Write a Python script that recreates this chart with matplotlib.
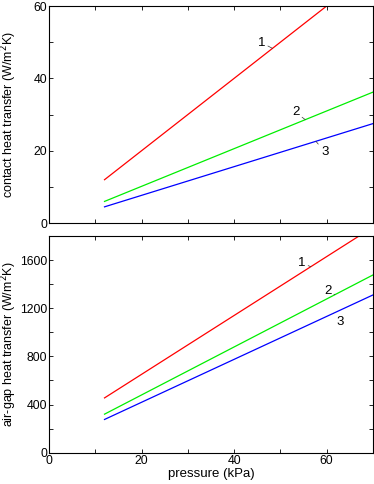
import matplotlib
matplotlib.use("Agg")
import matplotlib.pyplot as plt
import numpy as np

plt.rcParams["font.family"] = ["Liberation Sans", "DejaVu Sans"]
plt.rcParams["font.size"] = 9.5

# data (pressure in kPa)
pressure = np.array([12, 70])
contact_1 = np.array([12.0, 70.0])
contact_2 = np.array([6.0, 36.2])
contact_3 = np.array([4.5, 27.5])
airgap_1 = np.array([455.0, 1873.0])
airgap_2 = np.array([320.0, 1476.0])
airgap_3 = np.array([276.0, 1310.0])

COLORS = ["#ff0000", "#00ee00", "#0000ff"]

# label text position, point on curve for the leader line
top_labels = [("1", (45.9, 49.9), (48.3, 48.3)),
              ("2", (53.3, 30.6), (55.4, 28.6)),
              ("3", (59.6, 19.7), (57.7, 22.6))]
bot_labels = [("1", (54.6, 1575), (56.6, 1545)),
              ("2", (60.2, 1346), (61.8, 1312)),
              ("3", (62.9, 1084), (61.5, 1157))]

fig = plt.figure(figsize=(3.74, 4.84), dpi=100)
ax1 = fig.add_axes([0.131, 0.539, 0.866, 0.4485])
ax2 = fig.add_axes([0.131, 0.0647, 0.866, 0.4477])


def style(ax):
    ax.set_xlim(0, 70)
    ax.set_xticks(np.arange(0, 71, 10))
    ax.tick_params(direction="in", top=True, right=True, length=3, width=0.6,
                   pad=1.5, labelsize=8.8)
    for s in ax.spines.values():
        s.set_linewidth(0.8)


def label(ax, labels):
    for txt, (tx, ty), (cx, cy) in labels:
        ax.annotate(txt, xy=(cx, cy), xytext=(tx, ty), ha="center", va="center",
                    arrowprops=dict(arrowstyle="-", lw=0.5, color="#333333",
                                    shrinkA=0, shrinkB=0))


for y, c in zip([contact_1, contact_2, contact_3], COLORS):
    ax1.plot(pressure, y, color=c, lw=0.9)
style(ax1)
ax1.set_ylim(0, 60)
ax1.set_yticks(np.arange(0, 61, 10))
ax1.set_yticklabels(["0", "", "20", "", "40", "", "60"])
ax1.set_xticklabels([])
ax1.set_ylabel("contact heat transfer (W/m$^2$K)", fontsize=9)
ax1.yaxis.set_label_coords(-0.092, 0.5)
label(ax1, top_labels)

for y, c in zip([airgap_1, airgap_2, airgap_3], COLORS):
    ax2.plot(pressure, y, color=c, lw=0.9)
style(ax2)
ax2.set_ylim(0, 1800)
ax2.set_yticks(np.arange(0, 1801, 200))
ax2.set_yticklabels(["0", "", "400", "", "800", "", "1200", "", "1600", ""])
ax2.set_xticklabels(["0", "", "20", "", "40", "", "60", ""])
ax2.set_xlabel("pressure (kPa)", labelpad=1)
ax2.set_ylabel("air-gap heat transfer (W/m$^2$K)", fontsize=9)
ax2.yaxis.set_label_coords(-0.092, 0.5)
label(ax2, bot_labels)

fig.savefig("out.png", dpi=100)
